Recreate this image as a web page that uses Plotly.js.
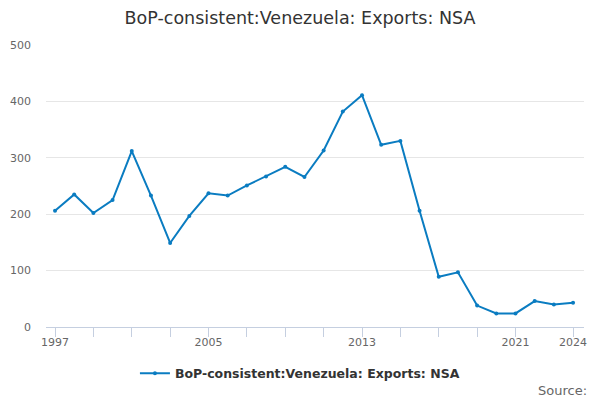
<!DOCTYPE html>
<html>
<head>
<meta charset="utf-8">
<script src="https://cdn.plot.ly/plotly-3.0.1.min.js"></script>
<style>
  html, body { margin: 0; padding: 0; background: #fff; }
  #chart { width: 600px; height: 400px; }
</style>
</head>
<body>
<div id="chart"></div>
<script>
var years = [1997, 1998, 1999, 2000, 2001, 2002, 2003, 2004, 2005, 2006,
    2007, 2008, 2009, 2010, 2011, 2012, 2013, 2014, 2015, 2016,
    2017, 2018, 2019, 2020, 2021, 2022, 2023, 2024];
var exportsNsa = [206, 235, 202, 225, 312, 233, 149, 197, 237, 233,
    251, 267, 284, 266, 313, 382, 411, 323, 330, 206,
    89, 97, 38, 24, 24, 46, 40, 43];
var tickYears = [1997, 1999, 2001, 2003, 2005, 2007, 2009, 2011, 2013, 2015, 2017, 2019, 2021, 2024];
var tickLabels = ["1997", "", "", "", "2005", "", "", "", "2013", "", "", "", "2021", "2024"];
var seriesName = "BoP-consistent:Venezuela: Exports: NSA";

var trace = {
    x: years,
    y: exportsNsa,
    type: "scatter",
    mode: "lines+markers",
    name: seriesName,
    line: { color: "#0a7cc1", width: 2 },
    marker: { color: "#0a7cc1", size: 4 }
};

var layout = {
    width: 600,
    height: 400,
    font: { family: "DejaVu Sans", color: "#333" },
    title: {
        text: seriesName,
        font: { size: 17.5, color: "#333" },
        x: 0.5, xanchor: "center",
        y: 0.955, yanchor: "middle"
    },
    margin: { l: 46, r: 16, t: 45, b: 73 },
    paper_bgcolor: "#fff",
    plot_bgcolor: "#fff",
    showlegend: true,
    legend: {
        orientation: "h",
        x: 0.472, xanchor: "center",
        y: -0.165, yanchor: "middle",
        itemwidth: 30,
        font: { size: 12.5, color: "#333", weight: "bold" }
    },
    xaxis: {
        range: [1996.53, 2024.57],
        tickmode: "array",
        tickvals: tickYears,
        ticktext: tickLabels,
        ticks: "outside",
        ticklen: 9,
        tickcolor: "#c5cfe0",
        showline: true,
        linecolor: "#c5cfe0",
        showgrid: false,
        zeroline: false,
        ticklabelstandoff: -4,
        tickfont: { size: 11, color: "#666" }
    },
    yaxis: {
        range: [0, 500],
        tickvals: [0, 100, 200, 300, 400, 500],
        showgrid: true,
        gridcolor: "#e6e6e6",
        zeroline: false,
        showline: false,
        ticklabelstandoff: 14,
        tickfont: { size: 11, color: "#666" }
    },
    annotations: [{
        text: "Source:",
        xref: "paper", yref: "paper",
        x: 1.01, xanchor: "right",
        y: -0.225, yanchor: "middle",
        showarrow: false,
        font: { size: 13, color: "#666" }
    }]
};

Plotly.newPlot("chart", [trace], layout, { displayModeBar: false });
</script>
</body>
</html>
